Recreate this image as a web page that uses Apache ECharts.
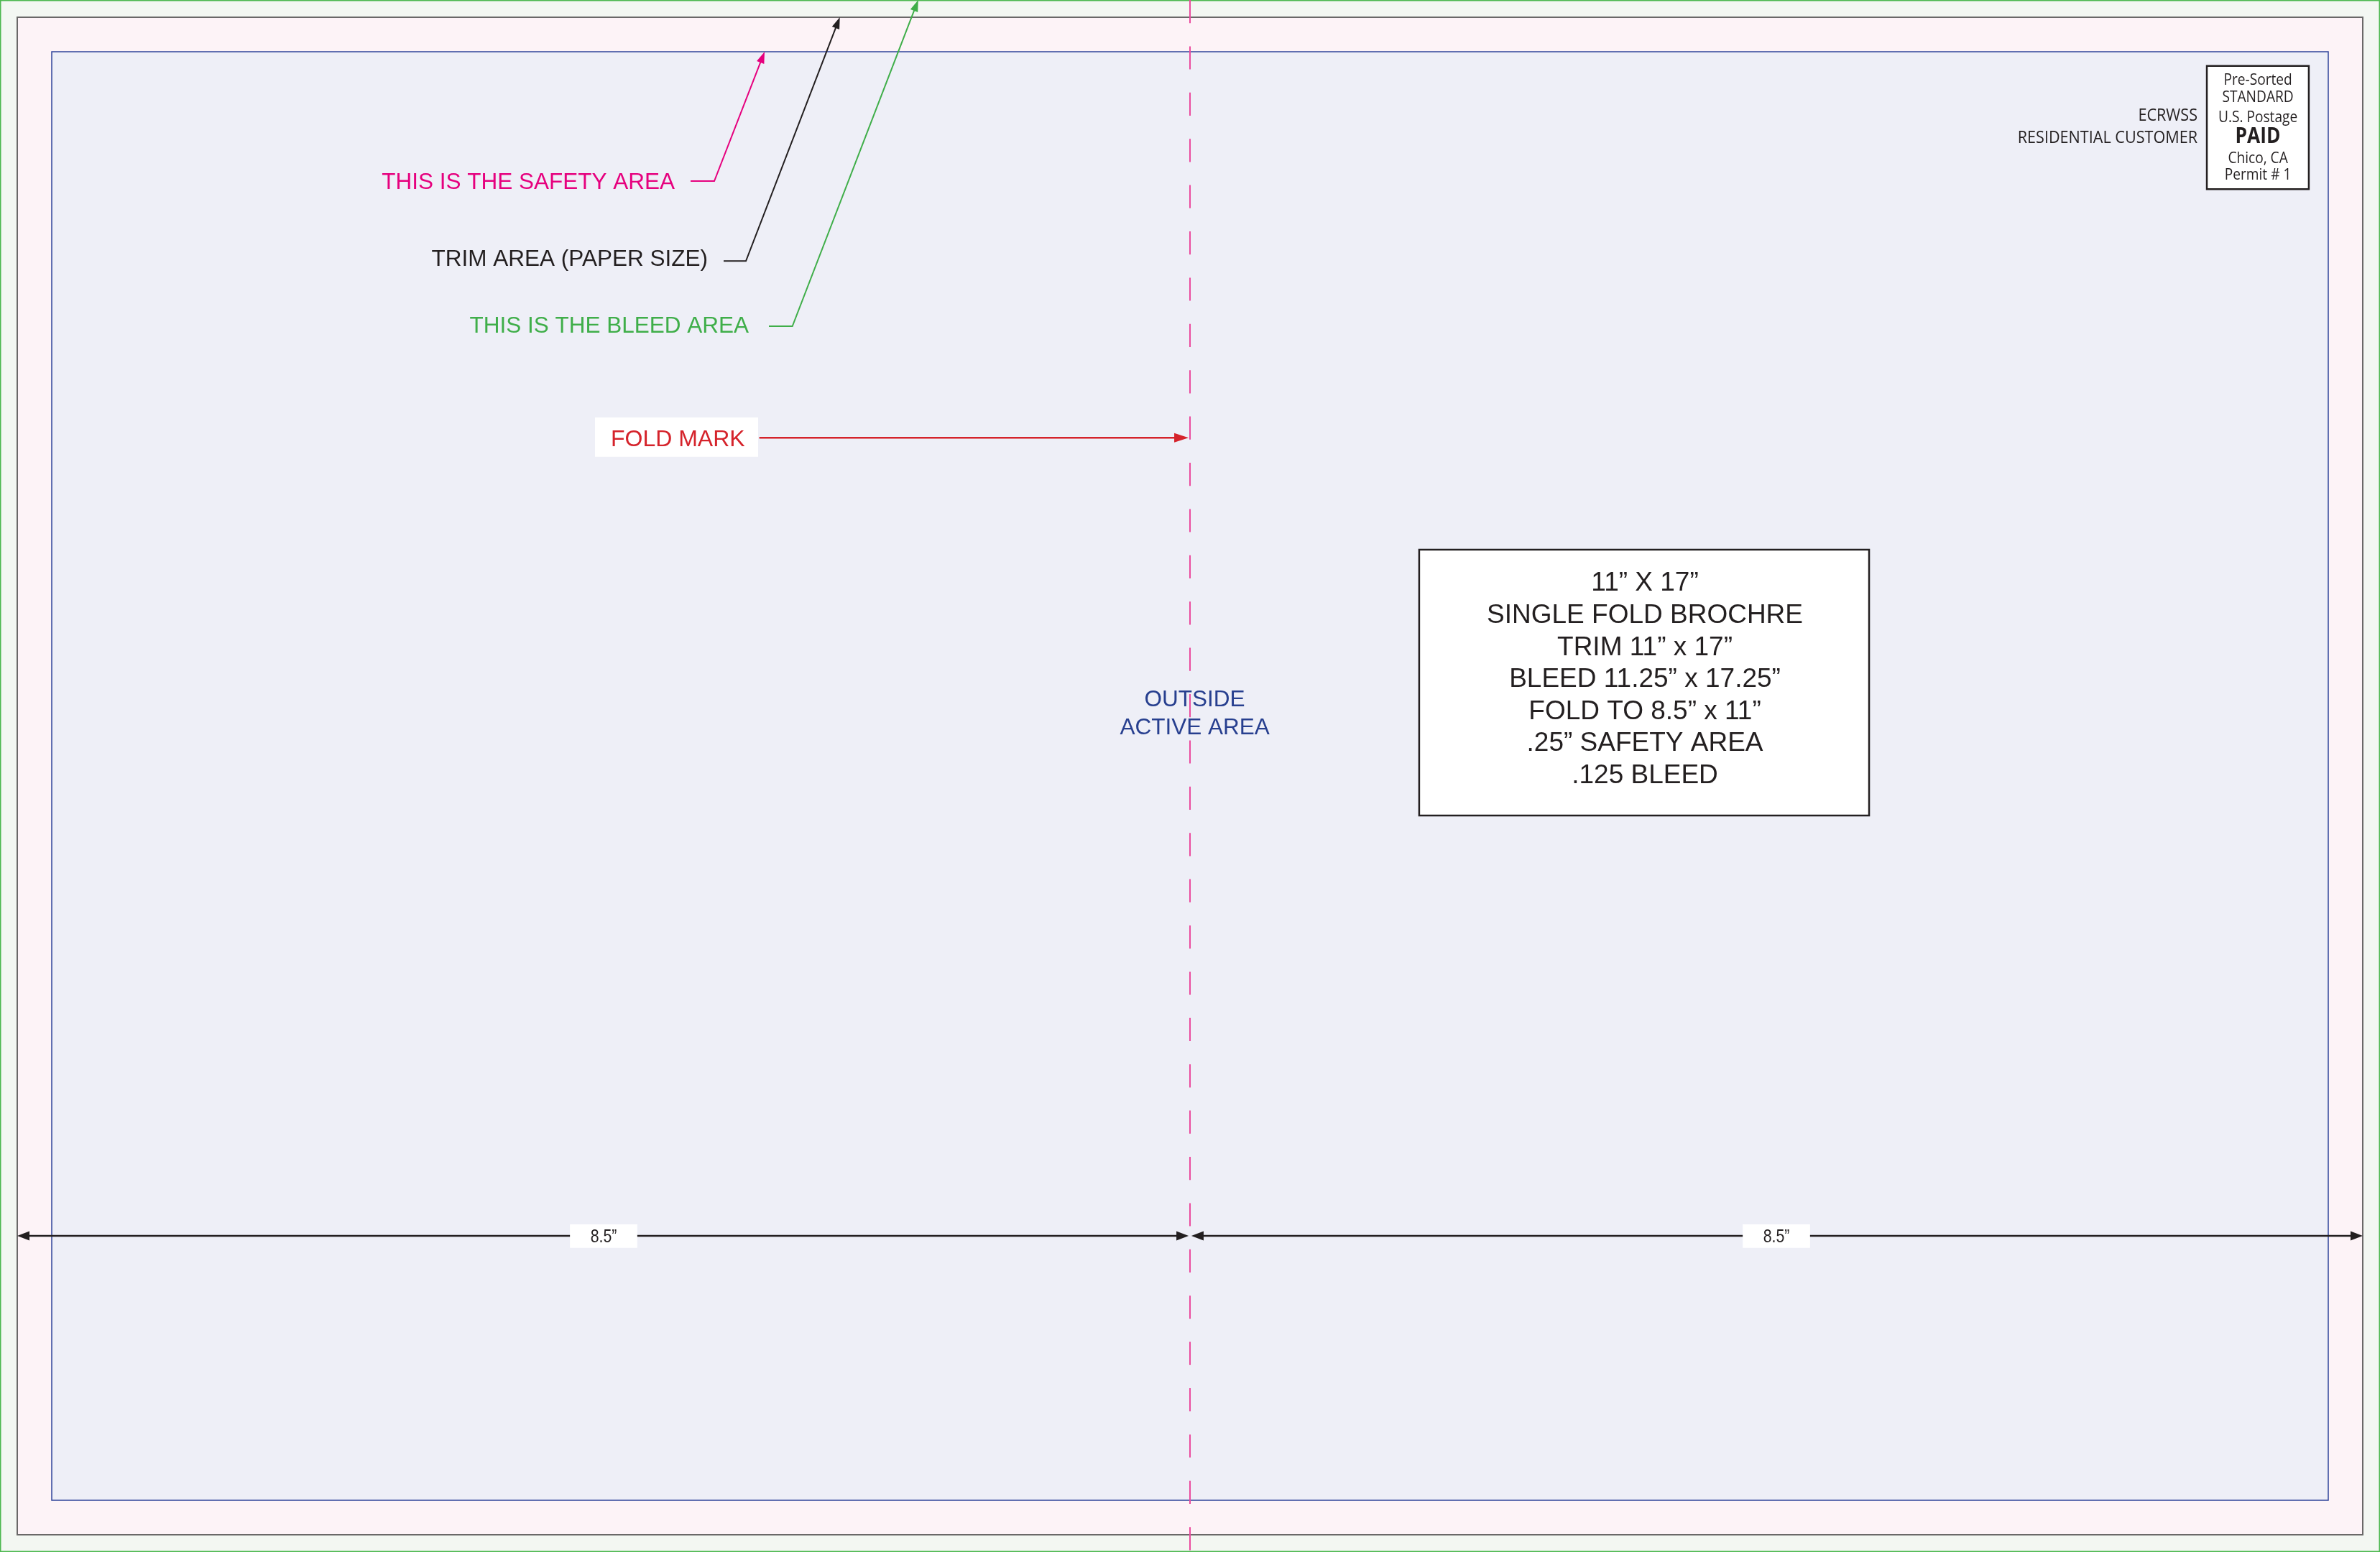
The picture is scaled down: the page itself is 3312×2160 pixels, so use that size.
<!DOCTYPE html>
<html><head><meta charset="utf-8">
<script src="https://cdn.jsdelivr.net/npm/echarts@6/dist/echarts.min.js"></script>
<style>html,body{margin:0;padding:0;background:#fff;overflow:hidden}#c{width:3312px;height:2160px;}</style>
</head><body><div id="c"></div>
<script>
// ---------------- data (all in inches) ----------------
const trimSize = [17, 11];
const bleedMargin = 0.125;
const safetyMargin = 0.25;
const foldAt = [8.5];
const panelWidths = [8.5, 8.5];
const panelLabels = ['8.5\u201D', '8.5\u201D'];
const specLines = ['11\u201D X 17\u201D', 'SINGLE FOLD BROCHRE', 'TRIM 11\u201D x 17\u201D', 'BLEED 11.25\u201D x 17.25\u201D', 'FOLD TO 8.5\u201D x 11\u201D', '.25\u201D SAFETY AREA', '.125 BLEED'];
const postageLines = ['Pre-Sorted', 'STANDARD', 'U.S. Postage', 'PAID', 'Chico, CA', 'Permit # 1'];
const mailerLines = ['ECRWSS', 'RESIDENTIAL CUSTOMER'];
const areaLabels = ['THIS IS THE SAFETY AREA', 'TRIM AREA (PAPER SIZE)', 'THIS IS THE BLEED AREA'];
const foldLabel = ['FOLD MARK'];
const activeLabel = ['OUTSIDE', 'ACTIVE AREA'];

// ---------------- styles & annotation layout ----------------
const COL = {
  bleedFill: '#f3f7f2', bleedLine: '#4cb84f',
  trimFill: '#fdf3f7', trimLine: '#6a6868',
  safeFill: '#eeeff7', safeLine: '#2f449b',
  fold: '#ea4c9f', ink: '#231f20',
  safetyText: '#e6007e', bleedText: '#3fae49', foldText: '#d5232b', active: '#273f8f'
};
const HELV = "'Liberation Sans', Arial, sans-serif";
const MYRIAD = "'Open Sans', 'Noto Sans', sans-serif";
const TEXT_DY = 1.5; // px nudge to match baseline placement

const LAYOUT = {
  leaders: [
    { right: 4.7656, y: 1.1896, elbow: [[4.8802, 1.1875], [5.0521, 1.1875]], tipX: 5.4167, color: COL.safetyText },
    { right: 5.0052, y: 1.7505, elbow: [[5.1198, 1.7672], [5.2813, 1.7672]], tipX: 5.9620, color: COL.ink },
    { right: 5.3021, y: 2.2313, elbow: [[5.4479, 2.2396], [5.6182, 2.2396]], tipX: 6.5302, color: COL.bleedText }
  ],
  foldBox: [4.1875, 2.901, 5.3697, 3.186],
  foldText: [4.302, 3.0568],
  foldArrow: [5.3781, 3.0484],
  active: [8.534, 5.0427],
  specBox: [10.161, 3.859, 13.422, 5.786],
  specText: [11.797, 4.794],
  postBox: [15.870, 0.3526, 16.609, 1.2464],
  postX: 16.240,
  postY: [0.4490, 0.5760, 0.7182, 0.8599, 1.0167, 1.1385],
  mailerRight: 15.802,
  mailerY: [0.7052, 0.8703],
  dimY: 8.8333,
  dimBox: [0.488, 0.170]
};

const W = trimSize[0], H = trimSize[1];
const frames = [
  [-bleedMargin, -bleedMargin, W + bleedMargin, H + bleedMargin],
  [0, 0, W, H],
  [safetyMargin, safetyMargin, W - safetyMargin, H - safetyMargin]
];
const frameStyles = [
  { fill: COL.bleedFill, stroke: COL.bleedLine, lineWidth: 3 },
  { fill: COL.trimFill, stroke: COL.trimLine, lineWidth: 2 },
  { fill: COL.safeFill, stroke: COL.safeLine, lineWidth: 1.5 }
];
const leaderEdges = [safetyMargin, 0, -bleedMargin];

function arrowHead(tip, from, len, width, color) {
  const dx = tip[0] - from[0], dy = tip[1] - from[1];
  const d = Math.hypot(dx, dy) || 1;
  const ux = dx / d, uy = dy / d;
  const bx = tip[0] - ux * len, by = tip[1] - uy * len;
  const px = -uy * width / 2, py = ux * width / 2;
  return { type: 'polygon', shape: { points: [tip, [bx + px, by + py], [bx - px, by - py]] }, style: { fill: color } };
}
function rectFrom(api, b, style) {
  const p0 = api.coord([b[0], b[1]]), p1 = api.coord([b[2], b[3]]);
  return { type: 'rect', shape: { x: p0[0], y: p0[1], width: p1[0] - p0[0], height: p1[1] - p0[1] }, style: style };
}
function txt(p, text, o) {
  return {
    type: 'text', x: p[0], y: p[1] + TEXT_DY, scaleX: o.scaleX || 1,
    style: {
      text: text, fill: o.fill, fontSize: o.size, fontFamily: o.family || HELV, fontWeight: o.weight || 'normal',
      align: o.align || 'left', verticalAlign: 'middle', lineHeight: o.lineHeight || undefined
    }
  };
}

// dimension segments derived from panel widths
const dimSegments = [];
(function () { let s = 0; panelWidths.forEach(function (w, i) { dimSegments.push([s, s + w, i]); s += w; }); })();

const option = {
  animation: false,
  backgroundColor: '#ffffff',
  grid: { left: 0, right: 0, top: 0, bottom: 0, containLabel: false },
  xAxis: { type: 'value', min: -bleedMargin, max: W + bleedMargin, show: false },
  yAxis: { type: 'value', min: -bleedMargin, max: H + bleedMargin, inverse: true, show: false },
  series: [
    { // frames: bleed, trim, safety
      type: 'custom', clip: false, z: 1,
      data: frames,
      renderItem: function (params, api) {
        const i = params.dataIndex;
        const b = [api.value(0), api.value(1), api.value(2), api.value(3)];
        return rectFrom(api, b, frameStyles[i]);
      }
    },
    { // area leaders
      type: 'custom', clip: false, z: 3,
      data: areaLabels.map(function (t, i) { return [i, leaderEdges[i]]; }),
      renderItem: function (params, api) {
        const i = params.dataIndex, L = LAYOUT.leaders[i];
        const edge = api.value(1);
        const a = api.coord(L.elbow[0]), b = api.coord(L.elbow[1]), tip = api.coord([L.tipX, edge]);
        const d = Math.hypot(tip[0] - b[0], tip[1] - b[1]);
        const end = [tip[0] - (tip[0] - b[0]) / d * 8, tip[1] - (tip[1] - b[1]) / d * 8];
        return {
          type: 'group', children: [
            txt(api.coord([L.right, L.y]), areaLabels[i], { fill: L.color, size: 31.5, align: 'right' }),
            { type: 'polyline', shape: { points: [a, b, end] }, style: { stroke: L.color, lineWidth: 2, fill: null } },
            arrowHead(tip, b, 16, 11, L.color)
          ]
        };
      }
    },
    { // fold mark label + arrow
      type: 'custom', clip: false, z: 3,
      data: foldAt.map(function (f) { return [f]; }),
      renderItem: function (params, api) {
        const f = api.value(0);
        const start = api.coord(LAYOUT.foldArrow), tip = api.coord([f - 0.01, LAYOUT.foldArrow[1]]);
        return {
          type: 'group', children: [
            rectFrom(api, LAYOUT.foldBox, { fill: '#ffffff' }),
            txt(api.coord(LAYOUT.foldText), foldLabel[0], { fill: COL.foldText, size: 32 }),
            { type: 'line', shape: { x1: start[0], y1: start[1], x2: tip[0] - 10, y2: tip[1] }, style: { stroke: COL.foldText, lineWidth: 2.5 } },
            arrowHead(tip, start, 20, 13, COL.foldText)
          ]
        };
      }
    },
    { // outside active area
      type: 'custom', clip: false, z: 3,
      data: [[0]],
      renderItem: function (params, api) {
        return txt(api.coord(LAYOUT.active), activeLabel.join('\n'), { fill: COL.active, size: 31.5, align: 'center', lineHeight: 38.3 });
      }
    },
    { // spec box
      type: 'custom', clip: false, z: 3,
      data: [[0]],
      renderItem: function (params, api) {
        return {
          type: 'group', children: [
            rectFrom(api, LAYOUT.specBox, { fill: '#ffffff', stroke: COL.ink, lineWidth: 2.5 }),
            txt(api.coord(LAYOUT.specText), specLines.join('\n'), { fill: COL.ink, size: 37, align: 'center', lineHeight: 44.6 })
          ]
        };
      }
    },
    { // postage indicia + mailer lines
      type: 'custom', clip: false, z: 3,
      data: [[0]],
      renderItem: function (params, api) {
        const kids = [rectFrom(api, LAYOUT.postBox, { fill: '#ffffff', stroke: COL.ink, lineWidth: 2.5 })];
        postageLines.forEach(function (t, i) {
          const bold = t === 'PAID';
          kids.push(txt(api.coord([LAYOUT.postX, LAYOUT.postY[i]]), t, {
            fill: COL.ink, size: bold ? 30 : 22, weight: bold ? 'bold' : 'normal', family: MYRIAD, align: 'center', scaleX: bold ? 0.88 : 0.87
          }));
        });
        mailerLines.forEach(function (t, i) {
          kids.push(txt(api.coord([LAYOUT.mailerRight, LAYOUT.mailerY[i]]), t, {
            fill: COL.ink, size: 24, family: MYRIAD, align: 'right', scaleX: 0.9
          }));
        });
        return { type: 'group', children: kids };
      }
    },
    { // dimension lines
      type: 'custom', clip: false, z: 4,
      data: dimSegments,
      renderItem: function (params, api) {
        const s = api.value(0), e = api.value(1), i = api.value(2);
        const y = LAYOUT.dimY;
        const inS = s === 0 ? 0 : 0.01, inE = e === W ? 0 : 0.01;
        const p0 = api.coord([s + inS, y]), p1 = api.coord([e - inE, y]);
        const mid = (s + e) / 2;
        const bw = LAYOUT.dimBox[0], bh = LAYOUT.dimBox[1];
        return {
          type: 'group', children: [
            { type: 'line', shape: { x1: p0[0] + 8, y1: p0[1], x2: p1[0] - 8, y2: p1[1] }, style: { stroke: COL.ink, lineWidth: 2.3 } },
            arrowHead(p0, p1, 17, 13, COL.ink),
            arrowHead(p1, p0, 17, 13, COL.ink),
            rectFrom(api, [mid - bw / 2, y - bh / 2 + 0.002, mid + bw / 2, y + bh / 2 + 0.002], { fill: '#ffffff' }),
            txt(api.coord([mid, y]), panelLabels[i], { fill: COL.ink, size: 26, align: 'center', scaleX: 0.82 })
          ]
        };
      }
    },
    { // fold line (dashed)
      type: 'custom', clip: false, z: 5,
      data: foldAt.map(function (f) { return [f]; }),
      renderItem: function (params, api) {
        const f = api.value(0);
        const a = api.coord([f, -bleedMargin]), b = api.coord([f, H + bleedMargin]);
        return { type: 'line', shape: { x1: a[0], y1: a[1], x2: b[0], y2: b[1] }, style: { stroke: COL.fold, lineWidth: 2, lineDash: [32.2, 32.2], lineDashOffset: 0 } };
      }
    }
  ]
};
const chart = echarts.init(document.getElementById('c'));
chart.setOption(option);
</script>
</body></html>
